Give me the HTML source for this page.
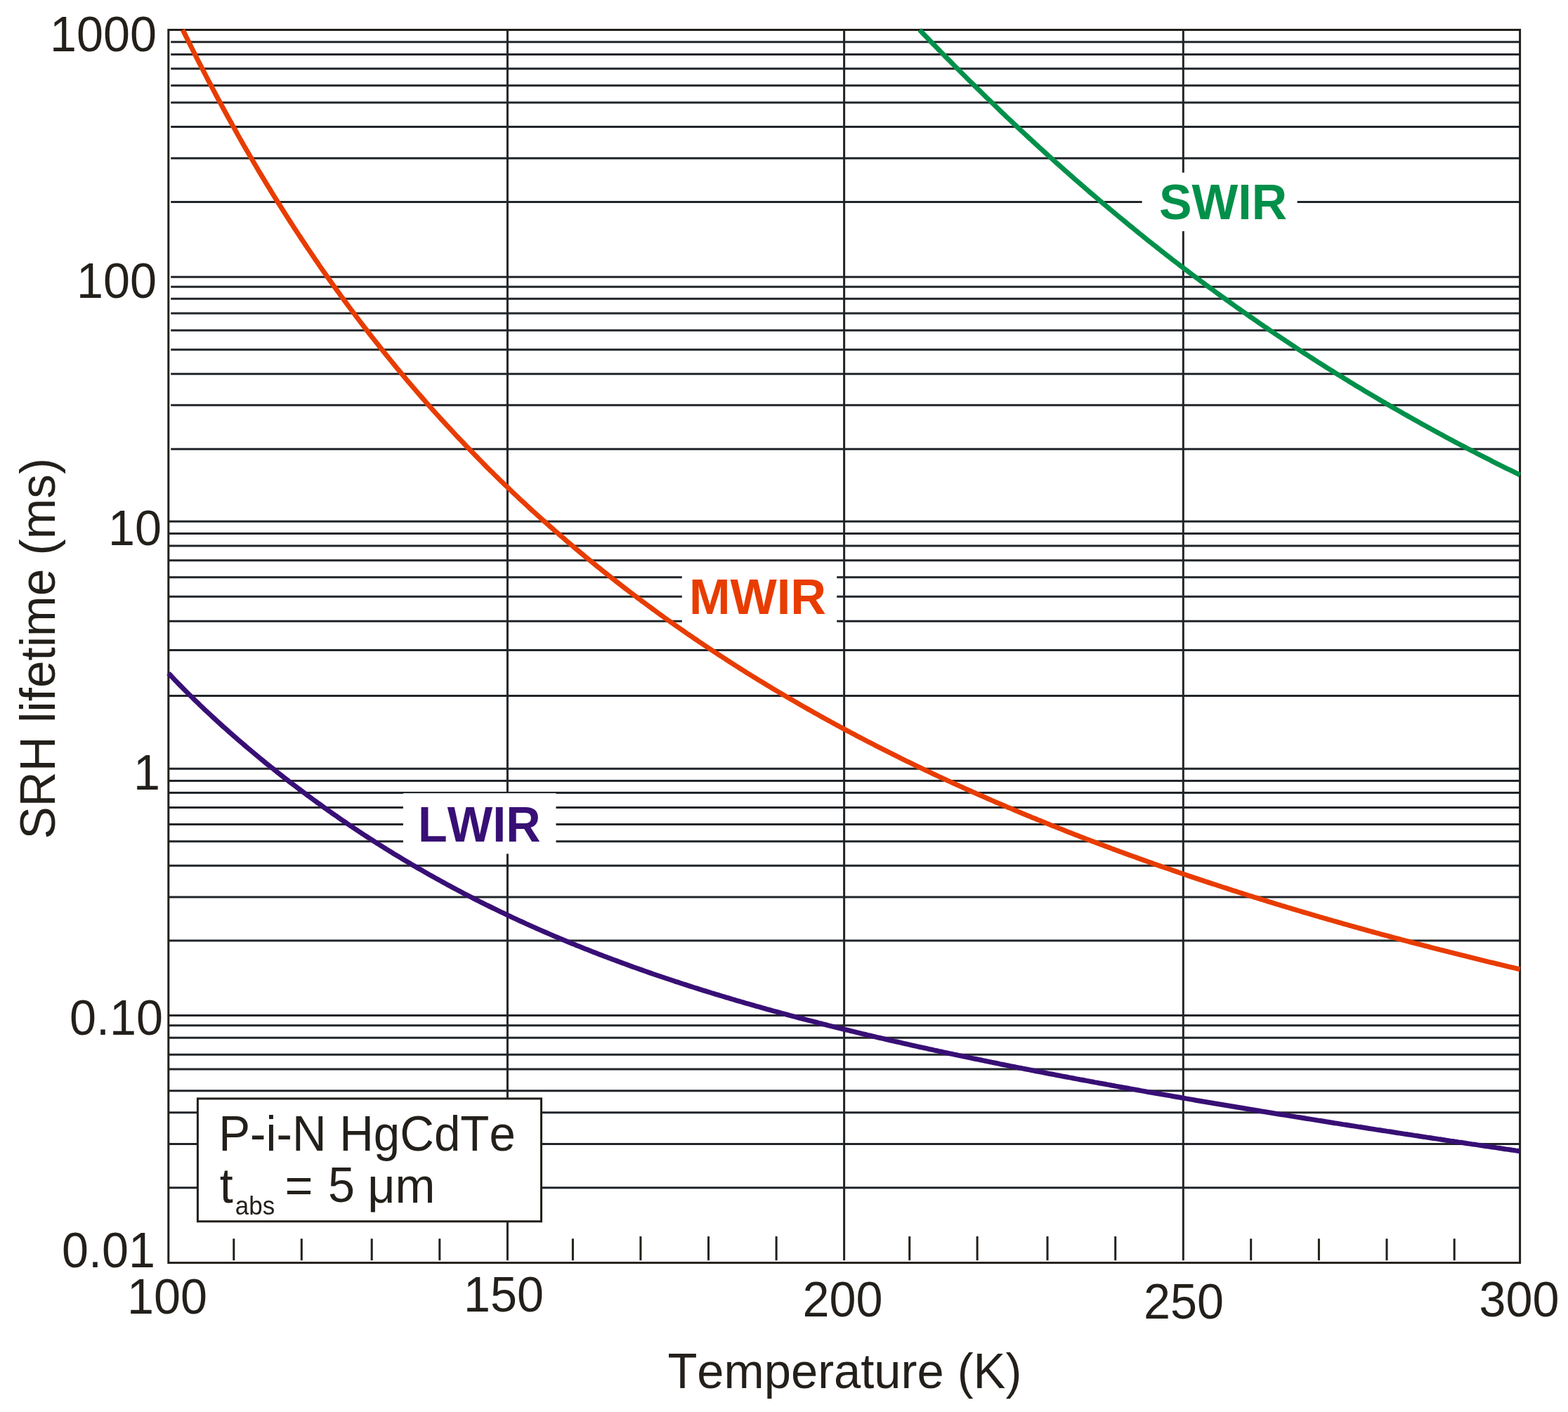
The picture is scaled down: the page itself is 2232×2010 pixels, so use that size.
<!DOCTYPE html>
<html><head><meta charset="utf-8"><style>html,body{margin:0;padding:0;background:#fff;overflow:hidden;}svg{display:block;}text{font-kerning:none;font-variant-ligatures:none;}</style></head>
<body><svg xmlns="http://www.w3.org/2000/svg" width="2232" height="2010" viewBox="0 0 2232 2010">
<rect width="2232" height="2010" fill="#fff"/>
<path d="M243.2,59.7H2163.6 M243.2,77.4H2163.6 M243.2,97.7H2163.6 M243.2,121.8H2163.6 M243.2,146.0H2163.6 M243.2,180.4H2163.6 M243.2,225.2H2163.6 M243.2,287.4H2163.6 M243.2,394.3H2163.6 M243.2,408.2H2163.6 M243.2,425.2H2163.6 M243.2,446.1H2163.6 M243.2,470.3H2163.6 M243.2,497.7H2163.6 M243.2,532.2H2163.6 M243.2,576.7H2163.6 M243.2,639.2H2163.6 M240.5,742.3H2163.6 M240.5,759.6H2163.6 M240.5,777.0H2163.6 M240.5,797.7H2163.6 M240.5,821.7H2163.6 M240.5,849.3H2163.6 M240.5,884.2H2163.6 M240.5,925.5H2163.6 M240.5,990.6H2163.6 M240.5,1094.2H2163.6 M240.5,1111.4H2163.6 M240.5,1128.5H2163.6 M240.5,1149.4H2163.6 M240.5,1173.6H2163.6 M240.5,1197.7H2163.6 M240.5,1232.3H2163.6 M240.5,1277.0H2163.6 M240.5,1339.1H2163.6 M240.5,1445.5H2163.6 M240.5,1459.7H2163.6 M240.5,1477.3H2163.6 M240.5,1501.3H2163.6 M240.5,1521.9H2163.6 M240.5,1552.7H2163.6 M240.5,1583.8H2163.6 M240.5,1628.6H2163.6 M240.5,1690.7H2163.6 M722.4,42.5V1794.2 M1201.6,42.5V1794.2 M1684.3,42.5V1794.2" stroke="#212529" stroke-width="3" fill="none"/>
<path d="M332.8,1763.2V1794.2 M429.3,1763.2V1794.2 M529.2,1763.2V1794.2 M625.8,1763.2V1794.2 M815.4,1763.2V1794.2 M911.9,1760.0V1794.2 M1008.5,1760.0V1794.2 M1105.1,1760.0V1794.2 M1294.7,1760.0V1794.2 M1391.1,1760.0V1794.2 M1491.0,1760.0V1794.2 M1587.7,1760.0V1794.2 M1780.7,1763.2V1794.2 M1877.4,1763.2V1794.2 M1974.0,1763.2V1794.2 M2070.2,1763.2V1794.2" stroke="#231f1a" stroke-width="3" fill="none"/>
<rect x="1625.6" y="245.7" width="221.0" height="83.4" fill="#fff"/>
<rect x="970.8" y="800" width="220.4" height="92.0" fill="#fff"/>
<rect x="573.9" y="1129.2" width="217.6" height="86.2" fill="#fff"/>
<rect x="281.4" y="1563.9" width="489.1" height="174.8" fill="#fff" stroke="#231f1a" stroke-width="3"/>
<rect x="239.8" y="42.5" width="1923.8" height="1755.1" fill="none" stroke="#231f1a" stroke-width="3"/>
<path d="M260.2,42.5 L263.2,48.6 L266.2,54.7 L269.2,60.8 L272.2,66.8 L275.2,72.8 L278.2,78.7 L281.2,84.7 L284.2,90.6 L287.2,96.4 L290.2,102.2 L293.2,108.0 L296.2,113.8 L299.2,119.5 L302.2,125.2 L305.2,130.9 L308.2,136.5 L311.2,142.1 L314.2,147.7 L317.2,153.2 L320.2,158.7 L323.2,164.2 L326.2,169.6 L329.2,175.0 L332.2,180.4 L335.2,185.8 L338.1,191.1 L341.1,196.4 L344.1,201.7 L347.1,206.9 L350.1,212.2 L353.1,217.3 L356.1,222.5 L359.1,227.6 L362.1,232.7 L365.1,237.8 L368.1,242.9 L371.1,247.9 L374.1,252.9 L377.1,257.9 L380.1,262.8 L383.1,267.7 L386.1,272.6 L389.1,277.5 L392.1,282.3 L395.1,287.1 L398.1,291.9 L401.1,296.7 L404.1,301.4 L407.1,306.1 L410.1,310.8 L413.1,315.5 L416.1,320.1 L419.1,324.8 L422.1,329.4 L425.1,333.9 L428.1,338.5 L431.1,343.0 L434.1,347.5 L437.1,352.0 L440.1,356.4 L443.1,360.9 L446.1,365.3 L449.1,369.7 L452.1,374.0 L455.0,378.4 L458.0,382.7 L461.0,387.0 L464.0,391.3 L467.0,395.5 L470.0,399.8 L473.0,404.0 L476.0,408.2 L479.0,412.4 L482.0,416.5 L485.0,420.7 L488.0,424.8 L491.0,428.9 L494.0,432.9 L497.0,437.0 L500.0,441.0 L503.0,445.0 L506.0,449.0 L509.0,453.0 L512.0,457.0 L515.0,460.9 L518.0,464.8 L521.0,468.7 L524.0,472.6 L527.0,476.5 L530.0,480.3 L533.0,484.1 L536.0,487.9 L539.0,491.7 L542.0,495.5 L545.0,499.3 L548.0,503.0 L551.0,506.7 L554.0,510.4 L557.0,514.1 L560.0,517.8 L563.0,521.4 L566.0,525.1 L569.0,528.7 L572.0,532.3 L574.9,535.8 L577.9,539.4 L580.9,543.0 L583.9,546.5 L586.9,550.0 L589.9,553.5 L592.9,557.0 L595.9,560.5 L598.9,563.9 L601.9,567.4 L604.9,570.8 L607.9,574.2 L610.9,577.6 L613.9,581.0 L616.9,584.3 L619.9,587.7 L622.9,591.0 L625.9,594.3 L628.9,597.6 L631.9,600.9 L634.9,604.2 L637.9,607.4 L640.9,610.7 L643.9,613.9 L646.9,617.1 L649.9,620.3 L652.9,623.5 L655.9,626.7 L658.9,629.8 L661.9,633.0 L664.9,636.1 L667.9,639.2 L670.9,642.3 L673.9,645.4 L676.9,648.5 L679.9,651.5 L682.9,654.6 L685.9,657.6 L688.9,660.7 L691.8,663.7 L694.8,666.7 L697.8,669.7 L700.8,672.6 L703.8,675.6 L706.8,678.5 L709.8,681.5 L712.8,684.4 L715.8,687.3 L718.8,690.2 L721.8,693.1 L724.8,696.0 L727.8,698.8 L730.8,701.7 L733.8,704.5 L736.8,707.3 L739.8,710.2 L742.8,713.0 L745.8,715.7 L748.8,718.5 L751.8,721.3 L754.8,724.1 L757.8,726.8 L760.8,729.5 L763.8,732.3 L766.8,735.0 L769.8,737.7 L772.8,740.4 L775.8,743.0 L778.8,745.7 L781.8,748.4 L784.8,751.0 L787.8,753.7 L790.8,756.3 L793.8,758.9 L796.8,761.5 L799.8,764.1 L802.8,766.7 L805.8,769.3 L808.7,771.8 L811.7,774.4 L814.7,776.9 L817.7,779.5 L820.7,782.0 L823.7,784.5 L826.7,787.0 L829.7,789.5 L832.7,792.0 L835.7,794.4 L838.7,796.9 L841.7,799.4 L844.7,801.8 L847.7,804.2 L850.7,806.7 L853.7,809.1 L856.7,811.5 L859.7,813.9 L862.7,816.3 L865.7,818.7 L868.7,821.0 L871.7,823.4 L874.7,825.8 L877.7,828.1 L880.7,830.4 L883.7,832.8 L886.7,835.1 L889.7,837.4 L892.7,839.7 L895.7,842.0 L898.7,844.3 L901.7,846.5 L904.7,848.8 L907.7,851.1 L910.7,853.3 L913.7,855.6 L916.7,857.8 L919.7,860.0 L922.7,862.2 L925.7,864.4 L928.6,866.6 L931.6,868.8 L934.6,871.0 L937.6,873.2 L940.6,875.4 L943.6,877.5 L946.6,879.7 L949.6,881.8 L952.6,884.0 L955.6,886.1 L958.6,888.2 L961.6,890.3 L964.6,892.4 L967.6,894.5 L970.6,896.6 L973.6,898.7 L976.6,900.8 L979.6,902.8 L982.6,904.9 L985.6,906.9 L988.6,909.0 L991.6,911.0 L994.6,913.1 L997.6,915.1 L1000.6,917.1 L1003.6,919.1 L1006.6,921.1 L1009.6,923.1 L1012.6,925.1 L1015.6,927.1 L1018.6,929.1 L1021.6,931.0 L1024.6,933.0 L1027.6,934.9 L1030.6,936.9 L1033.6,938.8 L1036.6,940.8 L1039.6,942.7 L1042.6,944.6 L1045.5,946.5 L1048.5,948.4 L1051.5,950.3 L1054.5,952.2 L1057.5,954.1 L1060.5,956.0 L1063.5,957.9 L1066.5,959.7 L1069.5,961.6 L1072.5,963.5 L1075.5,965.3 L1078.5,967.2 L1081.5,969.0 L1084.5,970.8 L1087.5,972.6 L1090.5,974.5 L1093.5,976.3 L1096.5,978.1 L1099.5,979.9 L1102.5,981.7 L1105.5,983.5 L1108.5,985.2 L1111.5,987.0 L1114.5,988.8 L1117.5,990.6 L1120.5,992.3 L1123.5,994.1 L1126.5,995.8 L1129.5,997.6 L1132.5,999.3 L1135.5,1001.0 L1138.5,1002.8 L1141.5,1004.5 L1144.5,1006.2 L1147.5,1007.9 L1150.5,1009.6 L1153.5,1011.3 L1156.5,1013.0 L1159.5,1014.7 L1162.4,1016.3 L1165.4,1018.0 L1168.4,1019.7 L1171.4,1021.4 L1174.4,1023.0 L1177.4,1024.7 L1180.4,1026.3 L1183.4,1028.0 L1186.4,1029.6 L1189.4,1031.2 L1192.4,1032.9 L1195.4,1034.5 L1198.4,1036.1 L1201.4,1037.7 L1204.4,1039.3 L1207.4,1040.9 L1210.4,1042.5 L1213.4,1044.1 L1216.4,1045.7 L1219.4,1047.3 L1222.4,1048.8 L1225.4,1050.4 L1228.4,1052.0 L1231.4,1053.5 L1234.4,1055.1 L1237.4,1056.6 L1240.4,1058.2 L1243.4,1059.7 L1246.4,1061.3 L1249.4,1062.8 L1252.4,1064.3 L1255.4,1065.9 L1258.4,1067.4 L1261.4,1068.9 L1264.4,1070.4 L1267.4,1071.9 L1270.4,1073.4 L1273.4,1074.9 L1276.4,1076.4 L1279.4,1077.9 L1282.3,1079.4 L1285.3,1080.8 L1288.3,1082.3 L1291.3,1083.8 L1294.3,1085.2 L1297.3,1086.7 L1300.3,1088.2 L1303.3,1089.6 L1306.3,1091.1 L1309.3,1092.5 L1312.3,1093.9 L1315.3,1095.4 L1318.3,1096.8 L1321.3,1098.2 L1324.3,1099.6 L1327.3,1101.1 L1330.3,1102.5 L1333.3,1103.9 L1336.3,1105.3 L1339.3,1106.7 L1342.3,1108.1 L1345.3,1109.5 L1348.3,1110.9 L1351.3,1112.2 L1354.3,1113.6 L1357.3,1115.0 L1360.3,1116.4 L1363.3,1117.7 L1366.3,1119.1 L1369.3,1120.4 L1372.3,1121.8 L1375.3,1123.2 L1378.3,1124.5 L1381.3,1125.8 L1384.3,1127.2 L1387.3,1128.5 L1390.3,1129.9 L1393.3,1131.2 L1396.3,1132.5 L1399.2,1133.8 L1402.2,1135.1 L1405.2,1136.5 L1408.2,1137.8 L1411.2,1139.1 L1414.2,1140.4 L1417.2,1141.7 L1420.2,1143.0 L1423.2,1144.3 L1426.2,1145.5 L1429.2,1146.8 L1432.2,1148.1 L1435.2,1149.4 L1438.2,1150.6 L1441.2,1151.9 L1444.2,1153.2 L1447.2,1154.4 L1450.2,1155.7 L1453.2,1157.0 L1456.2,1158.2 L1459.2,1159.5 L1462.2,1160.7 L1465.2,1161.9 L1468.2,1163.2 L1471.2,1164.4 L1474.2,1165.6 L1477.2,1166.9 L1480.2,1168.1 L1483.2,1169.3 L1486.2,1170.5 L1489.2,1171.7 L1492.2,1172.9 L1495.2,1174.2 L1498.2,1175.4 L1501.2,1176.6 L1504.2,1177.8 L1507.2,1178.9 L1510.2,1180.1 L1513.2,1181.3 L1516.1,1182.5 L1519.1,1183.7 L1522.1,1184.9 L1525.1,1186.0 L1528.1,1187.2 L1531.1,1188.4 L1534.1,1189.5 L1537.1,1190.7 L1540.1,1191.9 L1543.1,1193.0 L1546.1,1194.2 L1549.1,1195.3 L1552.1,1196.5 L1555.1,1197.6 L1558.1,1198.7 L1561.1,1199.9 L1564.1,1201.0 L1567.1,1202.2 L1570.1,1203.3 L1573.1,1204.4 L1576.1,1205.5 L1579.1,1206.6 L1582.1,1207.8 L1585.1,1208.9 L1588.1,1210.0 L1591.1,1211.1 L1594.1,1212.2 L1597.1,1213.3 L1600.1,1214.4 L1603.1,1215.5 L1606.1,1216.6 L1609.1,1217.7 L1612.1,1218.8 L1615.1,1219.8 L1618.1,1220.9 L1621.1,1222.0 L1624.1,1223.1 L1627.1,1224.1 L1630.1,1225.2 L1633.1,1226.3 L1636.0,1227.4 L1639.0,1228.4 L1642.0,1229.5 L1645.0,1230.5 L1648.0,1231.6 L1651.0,1232.6 L1654.0,1233.7 L1657.0,1234.7 L1660.0,1235.8 L1663.0,1236.8 L1666.0,1237.8 L1669.0,1238.9 L1672.0,1239.9 L1675.0,1240.9 L1678.0,1242.0 L1681.0,1243.0 L1684.0,1244.0 L1687.0,1245.0 L1690.0,1246.1 L1693.0,1247.1 L1696.0,1248.1 L1699.0,1249.1 L1702.0,1250.1 L1705.0,1251.1 L1708.0,1252.1 L1711.0,1253.1 L1714.0,1254.1 L1717.0,1255.1 L1720.0,1256.1 L1723.0,1257.1 L1726.0,1258.1 L1729.0,1259.0 L1732.0,1260.0 L1735.0,1261.0 L1738.0,1262.0 L1741.0,1263.0 L1744.0,1263.9 L1747.0,1264.9 L1750.0,1265.9 L1752.9,1266.8 L1755.9,1267.8 L1758.9,1268.7 L1761.9,1269.7 L1764.9,1270.7 L1767.9,1271.6 L1770.9,1272.6 L1773.9,1273.5 L1776.9,1274.5 L1779.9,1275.4 L1782.9,1276.3 L1785.9,1277.3 L1788.9,1278.2 L1791.9,1279.2 L1794.9,1280.1 L1797.9,1281.0 L1800.9,1281.9 L1803.9,1282.9 L1806.9,1283.8 L1809.9,1284.7 L1812.9,1285.6 L1815.9,1286.6 L1818.9,1287.5 L1821.9,1288.4 L1824.9,1289.3 L1827.9,1290.2 L1830.9,1291.1 L1833.9,1292.0 L1836.9,1292.9 L1839.9,1293.8 L1842.9,1294.7 L1845.9,1295.6 L1848.9,1296.5 L1851.9,1297.4 L1854.9,1298.3 L1857.9,1299.2 L1860.9,1300.0 L1863.9,1300.9 L1866.9,1301.8 L1869.8,1302.7 L1872.8,1303.6 L1875.8,1304.4 L1878.8,1305.3 L1881.8,1306.2 L1884.8,1307.0 L1887.8,1307.9 L1890.8,1308.8 L1893.8,1309.6 L1896.8,1310.5 L1899.8,1311.4 L1902.8,1312.2 L1905.8,1313.1 L1908.8,1313.9 L1911.8,1314.8 L1914.8,1315.6 L1917.8,1316.5 L1920.8,1317.3 L1923.8,1318.2 L1926.8,1319.0 L1929.8,1319.8 L1932.8,1320.7 L1935.8,1321.5 L1938.8,1322.3 L1941.8,1323.2 L1944.8,1324.0 L1947.8,1324.8 L1950.8,1325.7 L1953.8,1326.5 L1956.8,1327.3 L1959.8,1328.1 L1962.8,1328.9 L1965.8,1329.8 L1968.8,1330.6 L1971.8,1331.4 L1974.8,1332.2 L1977.8,1333.0 L1980.8,1333.8 L1983.8,1334.6 L1986.8,1335.4 L1989.7,1336.2 L1992.7,1337.0 L1995.7,1337.8 L1998.7,1338.6 L2001.7,1339.4 L2004.7,1340.2 L2007.7,1341.0 L2010.7,1341.8 L2013.7,1342.6 L2016.7,1343.3 L2019.7,1344.1 L2022.7,1344.9 L2025.7,1345.7 L2028.7,1346.5 L2031.7,1347.2 L2034.7,1348.0 L2037.7,1348.8 L2040.7,1349.6 L2043.7,1350.3 L2046.7,1351.1 L2049.7,1351.9 L2052.7,1352.6 L2055.7,1353.4 L2058.7,1354.2 L2061.7,1354.9 L2064.7,1355.7 L2067.7,1356.4 L2070.7,1357.2 L2073.7,1357.9 L2076.7,1358.7 L2079.7,1359.4 L2082.7,1360.2 L2085.7,1360.9 L2088.7,1361.7 L2091.7,1362.4 L2094.7,1363.2 L2097.7,1363.9 L2100.7,1364.7 L2103.7,1365.4 L2106.6,1366.1 L2109.6,1366.9 L2112.6,1367.6 L2115.6,1368.3 L2118.6,1369.1 L2121.6,1369.8 L2124.6,1370.5 L2127.6,1371.2 L2130.6,1372.0 L2133.6,1372.7 L2136.6,1373.4 L2139.6,1374.1 L2142.6,1374.8 L2145.6,1375.6 L2148.6,1376.3 L2151.6,1377.0 L2154.6,1377.7 L2157.6,1378.4 L2160.6,1379.1 L2163.6,1379.8" stroke="#e83c00" stroke-width="7" fill="none"/>
<path d="M239.8,958.3 L242.8,961.5 L245.8,964.6 L248.8,967.8 L251.8,970.9 L254.8,974.0 L257.8,977.0 L260.8,980.1 L263.8,983.1 L266.8,986.1 L269.8,989.1 L272.8,992.0 L275.8,995.0 L278.8,997.9 L281.8,1000.8 L284.7,1003.7 L287.7,1006.5 L290.7,1009.4 L293.7,1012.2 L296.7,1015.0 L299.7,1017.8 L302.7,1020.6 L305.7,1023.4 L308.7,1026.1 L311.7,1028.8 L314.7,1031.6 L317.7,1034.3 L320.7,1036.9 L323.7,1039.6 L326.7,1042.3 L329.7,1044.9 L332.7,1047.6 L335.7,1050.2 L338.7,1052.8 L341.7,1055.4 L344.7,1057.9 L347.7,1060.5 L350.7,1063.1 L353.7,1065.6 L356.7,1068.1 L359.7,1070.6 L362.7,1073.1 L365.7,1075.6 L368.7,1078.1 L371.6,1080.6 L374.6,1083.0 L377.6,1085.5 L380.6,1087.9 L383.6,1090.3 L386.6,1092.7 L389.6,1095.1 L392.6,1097.5 L395.6,1099.9 L398.6,1102.3 L401.6,1104.6 L404.6,1107.0 L407.6,1109.3 L410.6,1111.6 L413.6,1114.0 L416.6,1116.3 L419.6,1118.5 L422.6,1120.8 L425.6,1123.1 L428.6,1125.4 L431.6,1127.6 L434.6,1129.8 L437.6,1132.1 L440.6,1134.3 L443.6,1136.5 L446.6,1138.7 L449.6,1140.9 L452.6,1143.1 L455.6,1145.2 L458.5,1147.4 L461.5,1149.6 L464.5,1151.7 L467.5,1153.8 L470.5,1155.9 L473.5,1158.1 L476.5,1160.2 L479.5,1162.2 L482.5,1164.3 L485.5,1166.4 L488.5,1168.5 L491.5,1170.5 L494.5,1172.6 L497.5,1174.6 L500.5,1176.6 L503.5,1178.6 L506.5,1180.6 L509.5,1182.6 L512.5,1184.6 L515.5,1186.6 L518.5,1188.6 L521.5,1190.5 L524.5,1192.5 L527.5,1194.4 L530.5,1196.3 L533.5,1198.3 L536.5,1200.2 L539.5,1202.1 L542.5,1204.0 L545.5,1205.9 L548.4,1207.7 L551.4,1209.6 L554.4,1211.5 L557.4,1213.3 L560.4,1215.2 L563.4,1217.0 L566.4,1218.8 L569.4,1220.6 L572.4,1222.4 L575.4,1224.2 L578.4,1226.0 L581.4,1227.8 L584.4,1229.6 L587.4,1231.4 L590.4,1233.1 L593.4,1234.9 L596.4,1236.6 L599.4,1238.3 L602.4,1240.1 L605.4,1241.8 L608.4,1243.5 L611.4,1245.2 L614.4,1246.9 L617.4,1248.5 L620.4,1250.2 L623.4,1251.9 L626.4,1253.5 L629.4,1255.2 L632.4,1256.8 L635.3,1258.5 L638.3,1260.1 L641.3,1261.7 L644.3,1263.3 L647.3,1264.9 L650.3,1266.5 L653.3,1268.1 L656.3,1269.7 L659.3,1271.3 L662.3,1272.8 L665.3,1274.4 L668.3,1275.9 L671.3,1277.5 L674.3,1279.0 L677.3,1280.5 L680.3,1282.0 L683.3,1283.6 L686.3,1285.1 L689.3,1286.6 L692.3,1288.1 L695.3,1289.5 L698.3,1291.0 L701.3,1292.5 L704.3,1293.9 L707.3,1295.4 L710.3,1296.8 L713.3,1298.3 L716.3,1299.7 L719.3,1301.2 L722.2,1302.6 L725.2,1304.0 L728.2,1305.4 L731.2,1306.8 L734.2,1308.2 L737.2,1309.6 L740.2,1311.0 L743.2,1312.3 L746.2,1313.7 L749.2,1315.1 L752.2,1316.4 L755.2,1317.8 L758.2,1319.1 L761.2,1320.4 L764.2,1321.8 L767.2,1323.1 L770.2,1324.4 L773.2,1325.7 L776.2,1327.0 L779.2,1328.3 L782.2,1329.6 L785.2,1330.9 L788.2,1332.2 L791.2,1333.4 L794.2,1334.7 L797.2,1336.0 L800.2,1337.2 L803.2,1338.5 L806.2,1339.7 L809.1,1341.0 L812.1,1342.2 L815.1,1343.4 L818.1,1344.6 L821.1,1345.9 L824.1,1347.1 L827.1,1348.3 L830.1,1349.5 L833.1,1350.7 L836.1,1351.8 L839.1,1353.0 L842.1,1354.2 L845.1,1355.4 L848.1,1356.5 L851.1,1357.7 L854.1,1358.9 L857.1,1360.0 L860.1,1361.2 L863.1,1362.3 L866.1,1363.4 L869.1,1364.6 L872.1,1365.7 L875.1,1366.8 L878.1,1367.9 L881.1,1369.0 L884.1,1370.1 L887.1,1371.2 L890.1,1372.3 L893.1,1373.4 L896.0,1374.5 L899.0,1375.6 L902.0,1376.7 L905.0,1377.7 L908.0,1378.8 L911.0,1379.9 L914.0,1380.9 L917.0,1382.0 L920.0,1383.0 L923.0,1384.1 L926.0,1385.1 L929.0,1386.2 L932.0,1387.2 L935.0,1388.2 L938.0,1389.2 L941.0,1390.3 L944.0,1391.3 L947.0,1392.3 L950.0,1393.3 L953.0,1394.3 L956.0,1395.3 L959.0,1396.3 L962.0,1397.3 L965.0,1398.2 L968.0,1399.2 L971.0,1400.2 L974.0,1401.2 L977.0,1402.1 L980.0,1403.1 L983.0,1404.1 L985.9,1405.0 L988.9,1406.0 L991.9,1406.9 L994.9,1407.9 L997.9,1408.8 L1000.9,1409.8 L1003.9,1410.7 L1006.9,1411.6 L1009.9,1412.5 L1012.9,1413.5 L1015.9,1414.4 L1018.9,1415.3 L1021.9,1416.2 L1024.9,1417.1 L1027.9,1418.0 L1030.9,1418.9 L1033.9,1419.8 L1036.9,1420.7 L1039.9,1421.6 L1042.9,1422.5 L1045.9,1423.4 L1048.9,1424.3 L1051.9,1425.1 L1054.9,1426.0 L1057.9,1426.9 L1060.9,1427.8 L1063.9,1428.6 L1066.9,1429.5 L1069.9,1430.3 L1072.8,1431.2 L1075.8,1432.1 L1078.8,1432.9 L1081.8,1433.7 L1084.8,1434.6 L1087.8,1435.4 L1090.8,1436.3 L1093.8,1437.1 L1096.8,1437.9 L1099.8,1438.8 L1102.8,1439.6 L1105.8,1440.4 L1108.8,1441.2 L1111.8,1442.0 L1114.8,1442.9 L1117.8,1443.7 L1120.8,1444.5 L1123.8,1445.3 L1126.8,1446.1 L1129.8,1446.9 L1132.8,1447.7 L1135.8,1448.5 L1138.8,1449.3 L1141.8,1450.0 L1144.8,1450.8 L1147.8,1451.6 L1150.8,1452.4 L1153.8,1453.2 L1156.8,1453.9 L1159.7,1454.7 L1162.7,1455.5 L1165.7,1456.3 L1168.7,1457.0 L1171.7,1457.8 L1174.7,1458.5 L1177.7,1459.3 L1180.7,1460.1 L1183.7,1460.8 L1186.7,1461.6 L1189.7,1462.3 L1192.7,1463.1 L1195.7,1463.8 L1198.7,1464.5 L1201.7,1465.3 L1204.7,1466.0 L1207.7,1466.7 L1210.7,1467.5 L1213.7,1468.2 L1216.7,1468.9 L1219.7,1469.7 L1222.7,1470.4 L1225.7,1471.1 L1228.7,1471.8 L1231.7,1472.5 L1234.7,1473.3 L1237.7,1474.0 L1240.7,1474.7 L1243.7,1475.4 L1246.6,1476.1 L1249.6,1476.8 L1252.6,1477.5 L1255.6,1478.2 L1258.6,1478.9 L1261.6,1479.6 L1264.6,1480.3 L1267.6,1481.0 L1270.6,1481.7 L1273.6,1482.4 L1276.6,1483.0 L1279.6,1483.7 L1282.6,1484.4 L1285.6,1485.1 L1288.6,1485.8 L1291.6,1486.4 L1294.6,1487.1 L1297.6,1487.8 L1300.6,1488.5 L1303.6,1489.1 L1306.6,1489.8 L1309.6,1490.5 L1312.6,1491.1 L1315.6,1491.8 L1318.6,1492.4 L1321.6,1493.1 L1324.6,1493.8 L1327.6,1494.4 L1330.6,1495.1 L1333.5,1495.7 L1336.5,1496.4 L1339.5,1497.0 L1342.5,1497.7 L1345.5,1498.3 L1348.5,1499.0 L1351.5,1499.6 L1354.5,1500.2 L1357.5,1500.9 L1360.5,1501.5 L1363.5,1502.1 L1366.5,1502.8 L1369.5,1503.4 L1372.5,1504.0 L1375.5,1504.7 L1378.5,1505.3 L1381.5,1505.9 L1384.5,1506.6 L1387.5,1507.2 L1390.5,1507.8 L1393.5,1508.4 L1396.5,1509.0 L1399.5,1509.7 L1402.5,1510.3 L1405.5,1510.9 L1408.5,1511.5 L1411.5,1512.1 L1414.5,1512.7 L1417.5,1513.3 L1420.4,1513.9 L1423.4,1514.6 L1426.4,1515.2 L1429.4,1515.8 L1432.4,1516.4 L1435.4,1517.0 L1438.4,1517.6 L1441.4,1518.2 L1444.4,1518.8 L1447.4,1519.4 L1450.4,1520.0 L1453.4,1520.5 L1456.4,1521.1 L1459.4,1521.7 L1462.4,1522.3 L1465.4,1522.9 L1468.4,1523.5 L1471.4,1524.1 L1474.4,1524.7 L1477.4,1525.2 L1480.4,1525.8 L1483.4,1526.4 L1486.4,1527.0 L1489.4,1527.6 L1492.4,1528.2 L1495.4,1528.7 L1498.4,1529.3 L1501.4,1529.9 L1504.4,1530.5 L1507.4,1531.0 L1510.3,1531.6 L1513.3,1532.2 L1516.3,1532.7 L1519.3,1533.3 L1522.3,1533.9 L1525.3,1534.4 L1528.3,1535.0 L1531.3,1535.6 L1534.3,1536.1 L1537.3,1536.7 L1540.3,1537.2 L1543.3,1537.8 L1546.3,1538.4 L1549.3,1538.9 L1552.3,1539.5 L1555.3,1540.0 L1558.3,1540.6 L1561.3,1541.1 L1564.3,1541.7 L1567.3,1542.2 L1570.3,1542.8 L1573.3,1543.3 L1576.3,1543.9 L1579.3,1544.4 L1582.3,1545.0 L1585.3,1545.5 L1588.3,1546.1 L1591.3,1546.6 L1594.3,1547.2 L1597.2,1547.7 L1600.2,1548.3 L1603.2,1548.8 L1606.2,1549.3 L1609.2,1549.9 L1612.2,1550.4 L1615.2,1550.9 L1618.2,1551.5 L1621.2,1552.0 L1624.2,1552.6 L1627.2,1553.1 L1630.2,1553.6 L1633.2,1554.2 L1636.2,1554.7 L1639.2,1555.2 L1642.2,1555.7 L1645.2,1556.3 L1648.2,1556.8 L1651.2,1557.3 L1654.2,1557.9 L1657.2,1558.4 L1660.2,1558.9 L1663.2,1559.4 L1666.2,1559.9 L1669.2,1560.5 L1672.2,1561.0 L1675.2,1561.5 L1678.2,1562.0 L1681.2,1562.5 L1684.1,1563.1 L1687.1,1563.6 L1690.1,1564.1 L1693.1,1564.6 L1696.1,1565.1 L1699.1,1565.6 L1702.1,1566.2 L1705.1,1566.7 L1708.1,1567.2 L1711.1,1567.7 L1714.1,1568.2 L1717.1,1568.7 L1720.1,1569.2 L1723.1,1569.7 L1726.1,1570.2 L1729.1,1570.8 L1732.1,1571.3 L1735.1,1571.8 L1738.1,1572.3 L1741.1,1572.8 L1744.1,1573.3 L1747.1,1573.8 L1750.1,1574.3 L1753.1,1574.8 L1756.1,1575.3 L1759.1,1575.8 L1762.1,1576.3 L1765.1,1576.8 L1768.1,1577.3 L1771.0,1577.8 L1774.0,1578.3 L1777.0,1578.8 L1780.0,1579.3 L1783.0,1579.8 L1786.0,1580.3 L1789.0,1580.8 L1792.0,1581.3 L1795.0,1581.8 L1798.0,1582.2 L1801.0,1582.7 L1804.0,1583.2 L1807.0,1583.7 L1810.0,1584.2 L1813.0,1584.7 L1816.0,1585.2 L1819.0,1585.7 L1822.0,1586.2 L1825.0,1586.7 L1828.0,1587.1 L1831.0,1587.6 L1834.0,1588.1 L1837.0,1588.6 L1840.0,1589.1 L1843.0,1589.6 L1846.0,1590.1 L1849.0,1590.5 L1852.0,1591.0 L1855.0,1591.5 L1857.9,1592.0 L1860.9,1592.5 L1863.9,1592.9 L1866.9,1593.4 L1869.9,1593.9 L1872.9,1594.4 L1875.9,1594.9 L1878.9,1595.3 L1881.9,1595.8 L1884.9,1596.3 L1887.9,1596.8 L1890.9,1597.2 L1893.9,1597.7 L1896.9,1598.2 L1899.9,1598.7 L1902.9,1599.1 L1905.9,1599.6 L1908.9,1600.1 L1911.9,1600.6 L1914.9,1601.0 L1917.9,1601.5 L1920.9,1602.0 L1923.9,1602.5 L1926.9,1602.9 L1929.9,1603.4 L1932.9,1603.9 L1935.9,1604.3 L1938.9,1604.8 L1941.9,1605.3 L1944.9,1605.7 L1947.8,1606.2 L1950.8,1606.7 L1953.8,1607.1 L1956.8,1607.6 L1959.8,1608.1 L1962.8,1608.5 L1965.8,1609.0 L1968.8,1609.5 L1971.8,1609.9 L1974.8,1610.4 L1977.8,1610.8 L1980.8,1611.3 L1983.8,1611.8 L1986.8,1612.2 L1989.8,1612.7 L1992.8,1613.1 L1995.8,1613.6 L1998.8,1614.1 L2001.8,1614.5 L2004.8,1615.0 L2007.8,1615.4 L2010.8,1615.9 L2013.8,1616.4 L2016.8,1616.8 L2019.8,1617.3 L2022.8,1617.7 L2025.8,1618.2 L2028.8,1618.6 L2031.8,1619.1 L2034.7,1619.5 L2037.7,1620.0 L2040.7,1620.5 L2043.7,1620.9 L2046.7,1621.4 L2049.7,1621.8 L2052.7,1622.3 L2055.7,1622.7 L2058.7,1623.2 L2061.7,1623.6 L2064.7,1624.1 L2067.7,1624.5 L2070.7,1625.0 L2073.7,1625.4 L2076.7,1625.9 L2079.7,1626.3 L2082.7,1626.8 L2085.7,1627.2 L2088.7,1627.7 L2091.7,1628.1 L2094.7,1628.6 L2097.7,1629.0 L2100.7,1629.4 L2103.7,1629.9 L2106.7,1630.3 L2109.7,1630.8 L2112.7,1631.2 L2115.7,1631.7 L2118.7,1632.1 L2121.6,1632.6 L2124.6,1633.0 L2127.6,1633.4 L2130.6,1633.9 L2133.6,1634.3 L2136.6,1634.8 L2139.6,1635.2 L2142.6,1635.7 L2145.6,1636.1 L2148.6,1636.5 L2151.6,1637.0 L2154.6,1637.4 L2157.6,1637.9 L2160.6,1638.3 L2163.6,1638.7" stroke="#380f75" stroke-width="7" fill="none"/>
<path d="M1309.0,42.5 L1312.0,45.6 L1315.0,48.8 L1318.0,51.9 L1321.0,55.0 L1324.0,58.1 L1327.0,61.2 L1330.0,64.3 L1333.0,67.4 L1336.0,70.5 L1339.0,73.6 L1342.0,76.6 L1345.0,79.7 L1348.0,82.7 L1351.0,85.8 L1354.0,88.8 L1357.0,91.9 L1360.0,94.9 L1363.0,97.9 L1366.0,100.9 L1369.0,103.9 L1372.0,106.9 L1375.0,109.9 L1378.0,112.9 L1381.0,115.9 L1384.0,118.8 L1387.0,121.8 L1390.0,124.8 L1393.0,127.7 L1396.0,130.6 L1399.0,133.6 L1402.0,136.5 L1405.0,139.4 L1408.0,142.3 L1411.0,145.2 L1414.0,148.1 L1417.0,151.0 L1419.9,153.9 L1422.9,156.8 L1425.9,159.7 L1428.9,162.5 L1431.9,165.4 L1434.9,168.2 L1437.9,171.1 L1440.9,173.9 L1443.9,176.8 L1446.9,179.6 L1449.9,182.4 L1452.9,185.2 L1455.9,188.0 L1458.9,190.8 L1461.9,193.6 L1464.9,196.4 L1467.9,199.1 L1470.9,201.9 L1473.9,204.7 L1476.9,207.4 L1479.9,210.2 L1482.9,212.9 L1485.9,215.6 L1488.9,218.4 L1491.9,221.1 L1494.9,223.8 L1497.9,226.5 L1500.9,229.2 L1503.9,231.9 L1506.9,234.5 L1509.9,237.2 L1512.9,239.9 L1515.9,242.6 L1518.9,245.2 L1521.9,247.9 L1524.9,250.5 L1527.9,253.1 L1530.9,255.8 L1533.9,258.4 L1536.9,261.0 L1539.9,263.6 L1542.9,266.2 L1545.9,268.8 L1548.9,271.4 L1551.9,274.0 L1554.9,276.5 L1557.9,279.1 L1560.9,281.7 L1563.9,284.2 L1566.9,286.8 L1569.9,289.3 L1572.9,291.8 L1575.9,294.4 L1578.9,296.9 L1581.9,299.4 L1584.9,301.9 L1587.9,304.4 L1590.9,306.9 L1593.9,309.4 L1596.9,311.8 L1599.9,314.3 L1602.9,316.8 L1605.9,319.2 L1608.9,321.7 L1611.9,324.1 L1614.9,326.6 L1617.9,329.0 L1620.9,331.4 L1623.9,333.9 L1626.9,336.3 L1629.9,338.7 L1632.8,341.1 L1635.8,343.5 L1638.8,345.8 L1641.8,348.2 L1644.8,350.6 L1647.8,353.0 L1650.8,355.3 L1653.8,357.7 L1656.8,360.0 L1659.8,362.4 L1662.8,364.7 L1665.8,367.0 L1668.8,369.4 L1671.8,371.7 L1674.8,374.0 L1677.8,376.3 L1680.8,378.6 L1683.8,380.9 L1686.8,383.2 L1689.8,385.4 L1692.8,387.7 L1695.8,390.0 L1698.8,392.2 L1701.8,394.5 L1704.8,396.7 L1707.8,399.0 L1710.8,401.2 L1713.8,403.4 L1716.8,405.7 L1719.8,407.9 L1722.8,410.1 L1725.8,412.3 L1728.8,414.5 L1731.8,416.7 L1734.8,418.9 L1737.8,421.1 L1740.8,423.2 L1743.8,425.4 L1746.8,427.6 L1749.8,429.7 L1752.8,431.9 L1755.8,434.0 L1758.8,436.2 L1761.8,438.3 L1764.8,440.4 L1767.8,442.5 L1770.8,444.6 L1773.8,446.8 L1776.8,448.9 L1779.8,451.0 L1782.8,453.0 L1785.8,455.1 L1788.8,457.2 L1791.8,459.3 L1794.8,461.4 L1797.8,463.4 L1800.8,465.5 L1803.8,467.5 L1806.8,469.6 L1809.8,471.6 L1812.8,473.6 L1815.8,475.7 L1818.8,477.7 L1821.8,479.7 L1824.8,481.7 L1827.8,483.7 L1830.8,485.7 L1833.8,487.7 L1836.8,489.7 L1839.8,491.7 L1842.8,493.7 L1845.7,495.6 L1848.7,497.6 L1851.7,499.6 L1854.7,501.5 L1857.7,503.5 L1860.7,505.4 L1863.7,507.4 L1866.7,509.3 L1869.7,511.2 L1872.7,513.1 L1875.7,515.1 L1878.7,517.0 L1881.7,518.9 L1884.7,520.8 L1887.7,522.7 L1890.7,524.6 L1893.7,526.4 L1896.7,528.3 L1899.7,530.2 L1902.7,532.1 L1905.7,533.9 L1908.7,535.8 L1911.7,537.6 L1914.7,539.5 L1917.7,541.3 L1920.7,543.2 L1923.7,545.0 L1926.7,546.8 L1929.7,548.7 L1932.7,550.5 L1935.7,552.3 L1938.7,554.1 L1941.7,555.9 L1944.7,557.7 L1947.7,559.5 L1950.7,561.3 L1953.7,563.1 L1956.7,564.8 L1959.7,566.6 L1962.7,568.4 L1965.7,570.1 L1968.7,571.9 L1971.7,573.6 L1974.7,575.4 L1977.7,577.1 L1980.7,578.9 L1983.7,580.6 L1986.7,582.3 L1989.7,584.1 L1992.7,585.8 L1995.7,587.5 L1998.7,589.2 L2001.7,590.9 L2004.7,592.6 L2007.7,594.3 L2010.7,596.0 L2013.7,597.7 L2016.7,599.3 L2019.7,601.0 L2022.7,602.7 L2025.7,604.4 L2028.7,606.0 L2031.7,607.7 L2034.7,609.3 L2037.7,611.0 L2040.7,612.6 L2043.7,614.2 L2046.7,615.9 L2049.7,617.5 L2052.7,619.1 L2055.7,620.7 L2058.6,622.4 L2061.6,624.0 L2064.6,625.6 L2067.6,627.2 L2070.6,628.8 L2073.6,630.4 L2076.6,632.0 L2079.6,633.5 L2082.6,635.1 L2085.6,636.7 L2088.6,638.3 L2091.6,639.8 L2094.6,641.4 L2097.6,642.9 L2100.6,644.5 L2103.6,646.0 L2106.6,647.6 L2109.6,649.1 L2112.6,650.7 L2115.6,652.2 L2118.6,653.7 L2121.6,655.2 L2124.6,656.8 L2127.6,658.3 L2130.6,659.8 L2133.6,661.3 L2136.6,662.8 L2139.6,664.3 L2142.6,665.8 L2145.6,667.3 L2148.6,668.7 L2151.6,670.2 L2154.6,671.7 L2157.6,673.2 L2160.6,674.6 L2163.6,676.1" stroke="#00904a" stroke-width="7" fill="none"/>
<text transform="translate(71.00,73.00) scale(1,1.043)" font-size="68.35" font-weight="normal" fill="#231f1a" font-family="Liberation Sans, Arial, sans-serif">1000</text>
<text transform="translate(109.00,424.00) scale(1,1.043)" font-size="68.35" font-weight="normal" fill="#231f1a" font-family="Liberation Sans, Arial, sans-serif">100</text>
<text transform="translate(154.00,776.00) scale(1,1.043)" font-size="68.35" font-weight="normal" fill="#231f1a" font-family="Liberation Sans, Arial, sans-serif">10</text>
<text transform="translate(190.00,1124.00) scale(1,1.043)" font-size="68.35" font-weight="normal" fill="#231f1a" font-family="Liberation Sans, Arial, sans-serif">1</text>
<text transform="translate(99.00,1473.00) scale(1,1.043)" font-size="68.35" font-weight="normal" fill="#231f1a" font-family="Liberation Sans, Arial, sans-serif">0.10</text>
<text transform="translate(88.00,1804.00) scale(1,1.043)" font-size="68.35" font-weight="normal" fill="#231f1a" font-family="Liberation Sans, Arial, sans-serif">0.01</text>
<text transform="translate(181.00,1870.00) scale(1,1.043)" font-size="68.35" font-weight="normal" fill="#231f1a" font-family="Liberation Sans, Arial, sans-serif">100</text>
<text transform="translate(660.00,1867.00) scale(1,1.043)" font-size="68.35" font-weight="normal" fill="#231f1a" font-family="Liberation Sans, Arial, sans-serif">150</text>
<text transform="translate(1142.50,1874.00) scale(1,1.043)" font-size="68.35" font-weight="normal" fill="#231f1a" font-family="Liberation Sans, Arial, sans-serif">200</text>
<text transform="translate(1628.00,1877.00) scale(1,1.043)" font-size="68.35" font-weight="normal" fill="#231f1a" font-family="Liberation Sans, Arial, sans-serif">250</text>
<text transform="translate(2105.50,1874.00) scale(1,1.043)" font-size="68.35" font-weight="normal" fill="#231f1a" font-family="Liberation Sans, Arial, sans-serif">300</text>
<text transform="translate(950.40,1975.60) scale(1.005,1.043)" font-size="68.35" font-weight="normal" fill="#231f1a" font-family="Liberation Sans, Arial, sans-serif">Temperature (K)</text>
<text transform="translate(1650.00,312.00) scale(1.02,1.043)" font-size="68.35" font-weight="bold" fill="#00904a" font-family="Liberation Sans, Arial, sans-serif">SWIR</text>
<text transform="translate(981.00,874.00) scale(1.028,1.043)" font-size="68.35" font-weight="bold" fill="#e83c00" font-family="Liberation Sans, Arial, sans-serif">MWIR</text>
<text transform="translate(595.00,1198.00) scale(1,1.043)" font-size="68.35" font-weight="bold" fill="#380f75" font-family="Liberation Sans, Arial, sans-serif">LWIR</text>
<text transform="translate(311.20,1638.20) scale(0.985,1.043)" font-size="68.35" font-weight="normal" fill="#231f1a" font-family="Liberation Sans, Arial, sans-serif">P-i-N HgCdTe</text>
<text transform="translate(312.80,1711.60) scale(1,1.043)" font-size="68.35" font-weight="normal" fill="#231f1a" font-family="Liberation Sans, Arial, sans-serif">t</text>
<text transform="translate(334.80,1729.20) scale(1,1.043)" font-size="35" font-weight="normal" fill="#231f1a" font-family="Liberation Sans, Arial, sans-serif">abs</text>
<text transform="translate(405.60,1712.40) scale(1,1.043)" font-size="68.35" font-weight="normal" fill="#231f1a" font-family="Liberation Sans, Arial, sans-serif">=</text>
<text transform="translate(467.00,1711.40) scale(1,1.043)" font-size="68.35" font-weight="normal" fill="#231f1a" font-family="Liberation Sans, Arial, sans-serif">5</text>
<text transform="translate(523.20,1712.00) scale(1,1.043)" font-size="68.35" font-weight="normal" fill="#231f1a" font-family="Liberation Sans, Arial, sans-serif">μm</text>
<text transform="translate(77.70,1194.60) rotate(-90) scale(1.0136,1.0288)" font-size="68.35" fill="#231f1a" font-family="Liberation Sans, Arial, sans-serif">SRH lifetime (ms)</text>
</svg></body></html>
